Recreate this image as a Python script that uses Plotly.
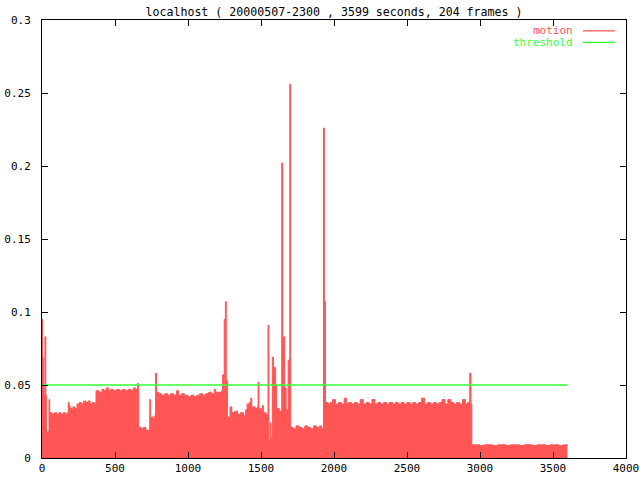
import plotly.graph_objects as go

# frame timestamps (seconds) and motion level
t = [0, 4, 10, 14, 20, 26, 30, 48, 53,
     70, 85, 100, 115, 130, 145, 160, 172,
     180, 186, 192, 205, 212, 225, 240, 255, 270, 285, 300, 315, 330, 345, 358,
     370, 390, 410, 425, 440, 455, 470, 490, 510, 530, 550, 570, 590, 610, 625, 640, 655, 662,
     680, 695, 712, 738, 744, 760, 772, 778, 784,
     800, 820, 840, 860, 880, 900, 920, 935, 955, 975, 1000, 1020, 1040, 1060, 1080, 1100,
     1120, 1140, 1160, 1180, 1190, 1210, 1230, 1237, 1243, 1248, 1256, 1262, 1270,
     1288, 1300, 1320, 1340, 1360, 1380, 1395, 1405, 1420, 1430, 1437, 1460, 1475, 1480, 1486,
     1500, 1510, 1516, 1535, 1548, 1554, 1563, 1568, 1578, 1586, 1592, 1600, 1606, 1625,
     1642, 1648, 1655, 1662, 1672, 1686, 1697, 1703,
     1720, 1740, 1760, 1780, 1800, 1820, 1840, 1860, 1880, 1900, 1915, 1928, 1934, 1942,
     1960, 1975, 1990, 2010, 2030, 2050, 2070, 2085, 2100, 2120, 2140, 2160, 2180, 2200,
     2220, 2240, 2260, 2280, 2300, 2320, 2340, 2360, 2380, 2400, 2420, 2440, 2460, 2480,
     2500, 2520, 2540, 2560, 2580, 2600, 2620, 2640, 2660, 2680, 2700, 2720, 2740, 2760,
     2780, 2800, 2820, 2840, 2860, 2880, 2900, 2915, 2930, 2938, 2944,
     2970, 3000, 3030, 3060, 3090, 3120, 3150, 3180, 3210, 3240, 3270, 3300, 3330, 3360,
     3390, 3420, 3450, 3480, 3510, 3540, 3570, 3599]
motion = [0.095, 0.069, 0.049, 0.043, 0.083, 0.043, 0.018, 0.040, 0.031,
          0.030, 0.031, 0.030, 0.031, 0.030, 0.031, 0.030, 0.031,
          0.038, 0.036, 0.034, 0.033, 0.035, 0.034, 0.037, 0.038, 0.037, 0.039, 0.038, 0.039, 0.037, 0.038, 0.037,
          0.046, 0.045, 0.047, 0.046, 0.048, 0.046, 0.047, 0.046, 0.047, 0.046, 0.047, 0.046, 0.047, 0.046, 0.048, 0.047, 0.051, 0.021,
          0.020, 0.021, 0.019, 0.040, 0.028, 0.027, 0.029, 0.058, 0.045,
          0.044, 0.043, 0.044, 0.043, 0.044, 0.043, 0.046, 0.043, 0.044, 0.043, 0.042, 0.043, 0.042, 0.043, 0.044, 0.043,
          0.044, 0.045, 0.044, 0.047, 0.045, 0.045, 0.046, 0.057, 0.046, 0.095, 0.107, 0.053, 0.028,
          0.035, 0.031, 0.032, 0.030, 0.031, 0.029, 0.033, 0.037, 0.038, 0.041, 0.035, 0.034, 0.035, 0.052, 0.034,
          0.033, 0.036, 0.031, 0.030, 0.091, 0.012, 0.024, 0.014, 0.069, 0.056, 0.062, 0.050, 0.034, 0.032,
          0.202, 0.080, 0.083, 0.048, 0.033, 0.067, 0.256, 0.021,
          0.020, 0.022, 0.021, 0.020, 0.022, 0.021, 0.020, 0.022, 0.021, 0.022, 0.020, 0.226, 0.107, 0.038,
          0.037, 0.038, 0.040, 0.037, 0.038, 0.037, 0.041, 0.037, 0.038, 0.037, 0.038, 0.037, 0.040, 0.037,
          0.038, 0.037, 0.040, 0.037, 0.038, 0.037, 0.038, 0.037, 0.038, 0.037, 0.038, 0.037, 0.038, 0.037,
          0.038, 0.037, 0.038, 0.037, 0.038, 0.041, 0.037, 0.038, 0.037, 0.038, 0.037, 0.038, 0.040, 0.037,
          0.040, 0.038, 0.037, 0.038, 0.037, 0.040, 0.037, 0.038, 0.058, 0.037, 0.009,
          0.009, 0.0085, 0.009, 0.009, 0.0085, 0.009, 0.009, 0.0085, 0.009, 0.009, 0.0085, 0.009, 0.009, 0.0085,
          0.009, 0.009, 0.0085, 0.009, 0.009, 0.0085, 0.009, 0.0085]

threshold_t = [0, 3599]
threshold = [0.05, 0.05]

RED = "#ff5555"
GREEN = "#33ff33"
FONT = "DejaVu Sans Mono"

fig = go.Figure()
fig.add_trace(go.Scatter(x=t, y=motion, mode="lines", line_shape="hv", fill="tozeroy",
                         fillcolor=RED, line=dict(color=RED, width=1), name="motion"))
fig.add_trace(go.Scatter(x=threshold_t, y=threshold, mode="lines",
                         line=dict(color=GREEN, width=1.3), name="threshold"))

# gnuplot-style key: text right-aligned, sample line on the right
for i, (label, color) in enumerate([("motion", RED), ("threshold", GREEN)]):
    yp = 0.975 - i * 0.026
    fig.add_annotation(x=0.912, y=yp, xref="paper", yref="paper", text=label, showarrow=False,
                       xanchor="right", yanchor="middle", font=dict(color=color, size=11, family=FONT))
    fig.add_shape(type="line", xref="paper", yref="paper", x0=0.926, x1=0.981, y0=yp, y1=yp,
                  line=dict(color=color, width=1.3))

axis = dict(showgrid=False, zeroline=False, showline=True, linecolor="black", linewidth=1,
            mirror="allticks", ticks="inside", ticklen=6, tickcolor="black", automargin=False,
            tickfont=dict(family=FONT, size=11, color="black"))
fig.update_xaxes(range=[0, 4000], tickvals=list(range(0, 4001, 500)), **axis)
fig.update_yaxes(range=[0, 0.3], tickvals=[0, 0.05, 0.1, 0.15, 0.2, 0.25, 0.3],
                 ticktext=["0", "0.05", "0.1", "0.15", "0.2", "0.25", "0.3"],
                 ticklabelstandoff=8, **axis)
fig.update_layout(
    title=dict(text="localhost ( 20000507-2300 , 3599 seconds, 204 frames )", x=0.5, xanchor="center",
               xref="paper", yref="container", y=0.975, yanchor="middle",
               font=dict(family=FONT, size=11.6, color="black"), automargin=False),
    width=640, height=480, margin=dict(l=42, r=14, t=20, b=22),
    plot_bgcolor="white", paper_bgcolor="white", showlegend=False,
)
# drop the default body margin so the 640x480 figure fills the window exactly
fig.write_html("out.html", config={"displayModeBar": False},
               post_script="document.body.style.margin='0';document.body.style.overflow='hidden';")
